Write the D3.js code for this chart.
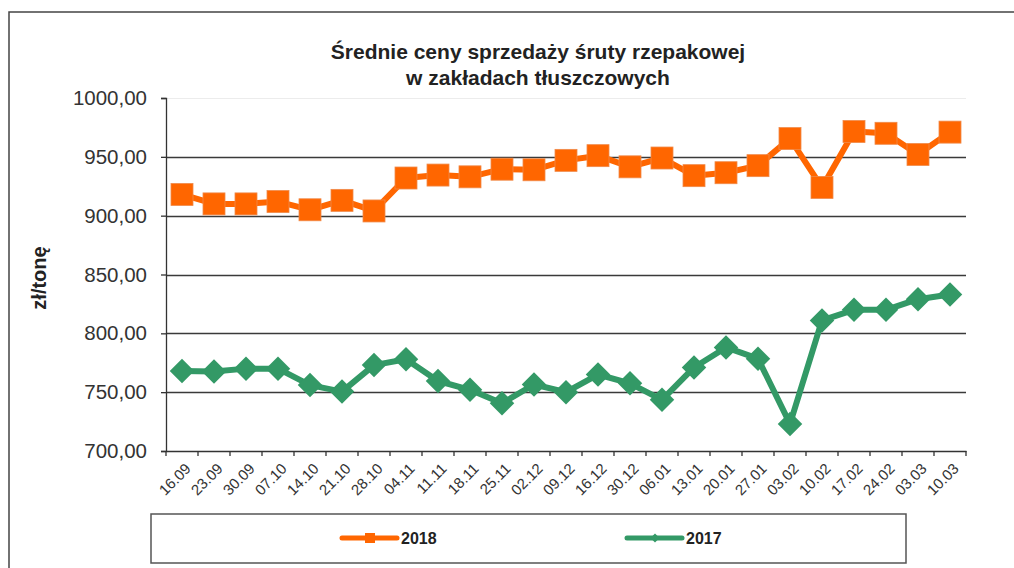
<!DOCTYPE html>
<html>
<head>
<meta charset="utf-8">
<script src="https://cdnjs.cloudflare.com/ajax/libs/d3/7.8.5/d3.min.js"></script>
<style>
  html, body { margin: 0; padding: 0; background: #fff; }
  svg { display: block; font-family: "Liberation Sans", Arial, sans-serif; }
</style>
</head>
<body>
<svg id="chart" width="1014" height="568"></svg>
<script>
const categories = ["16.09","23.09","30.09","07.10","14.10","21.10","28.10","04.11","11.11","18.11","25.11","02.12","09.12","16.12","30.12","06.01","13.01","20.01","27.01","03.02","10.02","17.02","24.02","03.03","10.03"];
const values2018 = [918, 910, 910, 912, 905, 913, 904, 932, 934.5, 933, 939.5, 939, 947, 951, 941.5, 949, 934, 936.5, 942.5, 965.5, 924, 971.5, 970, 952, 971];
const values2017 = [768, 767.5, 770, 770, 756, 750.5, 773, 778, 759.5, 752, 740.5, 756.5, 750, 765, 757.5, 743.5, 771, 788, 778.5, 723, 811, 820, 820, 829, 833];
const yTicks = [700, 750, 800, 850, 900, 950, 1000];
const seriesNames = ["2018", "2017"];
const titleLines = ["Średnie ceny sprzedaży śruty rzepakowej", "w zakładach tłuszczowych"];
const yAxisTitle = "zł/tonę";

const svg = d3.select("#chart");
const orange = "#FF6600";
const green = "#339966";

// outer chart frame
svg.append("rect").attr("x", 9).attr("y", 12).attr("width", 1020).attr("height", 600)
  .attr("fill", "none").attr("stroke", "#444").attr("stroke-width", 1.5);

const x = d3.scaleBand().domain(categories).range([166, 966]).padding(0);
const y = d3.scaleLinear().domain([700, 1000]).range([451, 98]);
const cx = d => x(d) + x.bandwidth() / 2;

// title
const title = svg.append("text").attr("text-anchor", "middle")
  .attr("font-weight", "bold").attr("font-size", 21).attr("fill", "#222");
titleLines.forEach((t, i) => {
  title.append("tspan").attr("x", 538).attr("y", 59 + i * 26).text(t);
});

// gridlines
svg.append("g").selectAll("line").data(yTicks.filter(v => v > 700)).join("line")
  .attr("x1", 166).attr("x2", 966)
  .attr("y1", d => Math.round(y(d)) + 0.5).attr("y2", d => Math.round(y(d)) + 0.5)
  .attr("stroke", d => d === 1000 ? "#ececec" : "#3a3a3a")
  .attr("stroke-width", d => d === 1000 ? 1 : 1.3);

// y axis
const yAxis = d3.axisLeft(y).tickValues(yTicks).tickSize(5).tickPadding(14)
  .tickFormat(d => d3.format(".2f")(d).replace(".", ","));
const gy = svg.append("g").attr("transform", "translate(166,0)").call(yAxis);
gy.select(".domain").attr("stroke", "#333").attr("stroke-width", 1.3);
gy.selectAll(".tick line").attr("stroke", "#333").attr("stroke-width", 1.3);
gy.selectAll("text").attr("font-size", 20.5).attr("fill", "#333")
  .attr("font-family", "'Liberation Sans', Arial, sans-serif");

// x axis
const xAxis = d3.axisBottom(x).tickSize(0).tickFormat("");
const gx = svg.append("g").attr("transform", "translate(0,451)").call(xAxis);
gx.select(".domain").attr("stroke", "#333").attr("stroke-width", 1.3);
// tick marks at category boundaries
const bounds = categories.map(c => x(c)).concat([x(categories[categories.length - 1]) + x.bandwidth()]);
gx.append("g").selectAll("line").data(bounds).join("line")
  .attr("x1", d => d).attr("x2", d => d).attr("y1", 0).attr("y2", 5)
  .attr("stroke", "#333").attr("stroke-width", 1.3);
gx.append("g").selectAll("text").data(categories).join("text")
  .attr("transform", d => `translate(${cx(d) + 6},${15}) rotate(-45)`)
  .attr("text-anchor", "end").attr("dy", "0.35em")
  .attr("font-size", 15).attr("fill", "#333").text(d => d);

// y axis title
svg.append("text").attr("transform", "translate(46,278) rotate(-90)")
  .attr("text-anchor", "middle").attr("font-weight", "bold").attr("font-size", 20)
  .attr("fill", "#222").text(yAxisTitle);

// series
const line = d3.line().x(d => cx(d.c)).y(d => y(d.v));
const d2018 = categories.map((c, i) => ({ c, v: values2018[i] }));
const d2017 = categories.map((c, i) => ({ c, v: values2017[i] }));

svg.append("path").datum(d2018).attr("d", line).attr("fill", "none")
  .attr("stroke", orange).attr("stroke-width", 6).attr("stroke-linejoin", "round");
svg.append("g").selectAll("rect").data(d2018).join("rect")
  .attr("x", d => cx(d.c) - 11).attr("y", d => y(d.v) - 11)
  .attr("width", 22).attr("height", 22).attr("fill", orange)
  .attr("stroke", "#f08a4a").attr("stroke-width", 0.8);

svg.append("path").datum(d2017).attr("d", line).attr("fill", "none")
  .attr("stroke", green).attr("stroke-width", 6).attr("stroke-linejoin", "round");
const diamond = d3.symbol().type(d3.symbolSquare).size(300);
svg.append("g").selectAll("path").data(d2017).join("path")
  .attr("transform", d => `translate(${cx(d.c)},${y(d.v)}) rotate(45)`)
  .attr("d", diamond).attr("fill", green);

// legend
svg.append("rect").attr("x", 151).attr("y", 514).attr("width", 755).attr("height", 49)
  .attr("fill", "none").attr("stroke", "#555").attr("stroke-width", 1.5);
const legendItems = [
  { name: seriesNames[0], color: orange, x0: 342, type: "square" },
  { name: seriesNames[1], color: green, x0: 627, type: "diamond" }
];
const lg = svg.append("g").selectAll("g").data(legendItems).join("g");
lg.append("line").attr("x1", d => d.x0).attr("x2", d => d.x0 + 55)
  .attr("y1", 538).attr("y2", 538).attr("stroke", d => d.color)
  .attr("stroke-width", 5).attr("stroke-linecap", "round");
lg.append("path").attr("transform", d => `translate(${d.x0 + 28},538) rotate(${d.type === "diamond" ? 45 : 0})`)
  .attr("d", d => d3.symbol().type(d3.symbolSquare).size(d.type === "diamond" ? 40 : 100)())
  .attr("fill", d => d.color);
lg.append("text").attr("x", d => d.x0 + 59).attr("y", 544)
  .attr("font-weight", "bold").attr("font-size", 16).attr("fill", "#222").text(d => d.name);
</script>
</body>
</html>
